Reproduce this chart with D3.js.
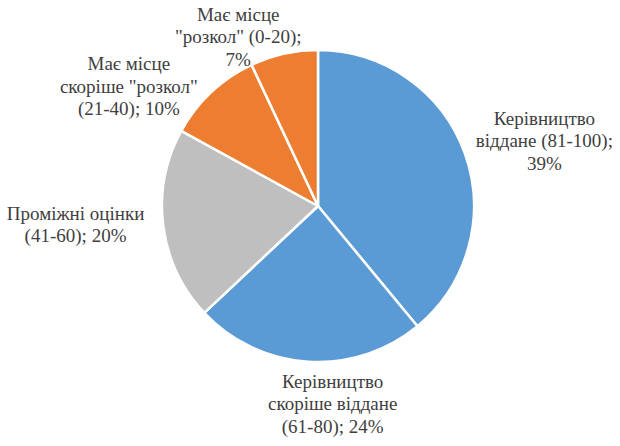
<!DOCTYPE html>
<html>
<head>
<meta charset="utf-8">
<script src="https://cdn.jsdelivr.net/npm/d3@7"></script>
<style>
  html, body { margin: 0; padding: 0; background: #fff; }
  svg { display: block; }
  .label { font-family: 'Liberation Serif', 'DejaVu Serif', 'Noto Serif', 'Times New Roman', Times, serif; }
</style>
</head>
<body>
<div id="chart"></div>
<script>
// Slices, clockwise from 12 o'clock
const categories = [
    'Керівництво віддане (81-100)',
    'Керівництво скоріше віддане (61-80)',
    'Проміжні оцінки (41-60)',
    'Має місце скоріше "розкол" (21-40)',
    'Має місце "розкол" (0-20)'
];
const values = [39, 24, 20, 10, 7];

// Label text, one entry per line (same order as categories)
const labelLines = [
    ['Керівництво', 'віддане (81-100);', '39%'],
    ['Керівництво', 'скоріше віддане', '(61-80); 24%'],
    ['Проміжні оцінки', '(41-60); 20%'],
    ['Має місце', 'скоріше "розкол"', '(21-40); 10%'],
    ['Має місце', '"розкол" (0-20);', '7%']
];

const width = 620;
const height = 446;
const cx = 318;
const cy = 206;
const radius = 156;
const lineHeight = 22.5;

const colors = ['#5B9BD5', '#5B9BD5', '#BFBFBF', '#ED7D31', '#ED7D31'];
// nudges from the label-arc centroid to the first baseline / block centre
const labelNudge = [[42, -15], [27, -14], [-48, -11], [-55, 7], [-37, 6]];

const svg = d3.select('#chart')
    .append('svg')
    .attr('width', width)
    .attr('height', height);

const pie = d3.pie().sort(null).value(d => d.value);
const arcs = pie(categories.map((c, i) => ({ name: c, value: values[i], idx: i })));

const arc = d3.arc().innerRadius(0).outerRadius(radius);
const labelArc = d3.arc().innerRadius(radius + 40).outerRadius(radius + 40);

const g = svg.append('g').attr('transform', `translate(${cx},${cy})`);

g.selectAll('path')
    .data(arcs)
    .enter().append('path')
    .attr('d', arc)
    .attr('fill', d => colors[d.data.idx])
    .attr('stroke', '#fff')
    .attr('stroke-width', 2.5)
    .attr('stroke-linejoin', 'round');

const labels = g.selectAll('text.label')
    .data(arcs)
    .enter().append('text')
    .attr('class', 'label')
    .attr('text-anchor', 'middle')
    .attr('font-size', 19)
    .attr('fill', '#404040')
    .attr('transform', d => {
        const [x, y] = labelArc.centroid(d);
        const [nx, ny] = labelNudge[d.data.idx];
        return `translate(${x + nx},${y + ny})`;
    });

labels.selectAll('tspan')
    .data(d => labelLines[d.data.idx])
    .enter().append('tspan')
    .attr('x', 0)
    .attr('y', (d, i) => i * lineHeight)
    .text(d => d);
</script>
</body>
</html>
